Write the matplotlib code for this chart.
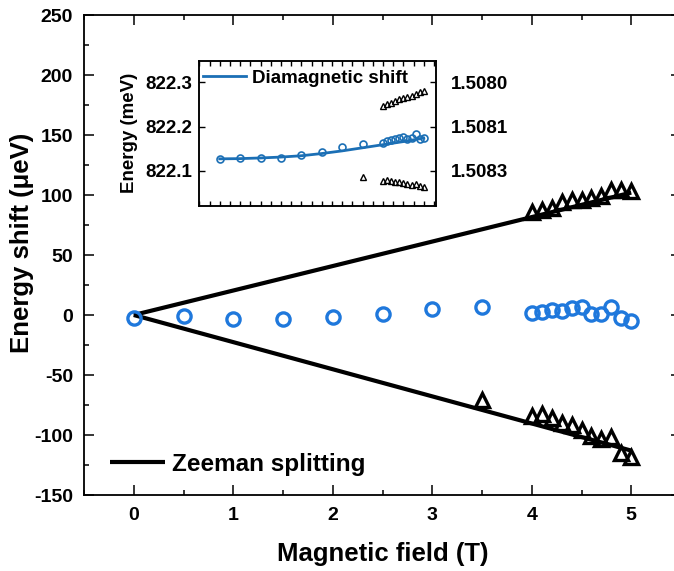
import matplotlib
matplotlib.use('Agg')
import matplotlib.pyplot as plt
from matplotlib.ticker import MultipleLocator

plt.rcParams['font.family'] = ['Liberation Sans', 'DejaVu Sans']
plt.rcParams['font.weight'] = 'bold'
plt.rcParams['axes.labelweight'] = 'bold'
plt.rcParams['axes.unicode_minus'] = False

# ---------------- data (main panel) ----------------
field_low = [0.0, 0.5, 1.0, 1.5, 2.0, 2.5, 3.0, 3.5]
field_high = [4.0, 4.1, 4.2, 4.3, 4.4, 4.5, 4.6, 4.7, 4.8, 4.9, 5.0]
center_shift = [-2.8, -0.8, -3.3, -3.3, -1.4, 0.8, 4.7, 6.9,
                1.9, 2.5, 4.2, 3.6, 5.8, 6.4, 0.5, 0.5, 6.4, -2.8, -4.7]
upper_field = field_high
upper_shift = [85.8, 87.8, 88.9, 94.0, 95.5, 95.8, 97.2, 98.9, 103.9, 103.9, 103.3]
lower_field = [3.5] + field_high
lower_shift = [-71.0, -83.8, -82.4, -85.7, -90.0, -92.0, -95.5, -101.0, -103.0,
               -102.0, -114.7, -118.7]
zeeman_field = [0.0, 5.0]
zeeman_upper = [0.0, 102.0]
zeeman_lower = [0.0, -113.0]

# ---------------- data (inset) ----------------
inset_center_E = [822.1265, 822.128, 822.128, 822.130, 822.135, 822.142, 822.153, 822.160,
                  822.163, 822.1665, 822.169, 822.171, 822.174, 822.1755, 822.173,
                  822.174, 822.183, 822.173, 822.174]
inset_upper_E = [822.2464, 822.250, 822.254, 822.258, 822.2615, 822.264, 822.266,
                 822.269, 822.273, 822.278, 822.281]
inset_lower_E = [822.085, 822.0774, 822.079, 822.077, 822.0745, 822.074, 822.0715,
                 822.069, 822.068, 822.069, 822.0647, 822.0624]
fit_B = [0.0, 0.5, 1.0, 1.5, 2.0, 2.5, 3.0, 3.5, 4.0, 4.5, 5.0]
fit_E = [822.127, 822.1275, 822.129, 822.131, 822.134, 822.139, 822.145, 822.152,
         822.159, 822.166, 822.174]
inset_left_ticks = [822.1, 822.2, 822.3]
inset_left_labels = ['822.1', '822.2', '822.3']
inset_right_labels = ['1.5083', '1.5081', '1.5080']

all_field = field_low + field_high

W, H = 674, 571
fig = plt.figure(figsize=(W / 100, H / 100), dpi=100)

# main axes: left 84px, right 681px, top 15px, bottom 495px
ax = fig.add_axes([84 / W, 1 - 495 / H, (681 - 84) / W, (495 - 15) / H])
line_main, = ax.plot(zeeman_field, zeeman_upper, color='black', lw=3.0,
                     solid_capstyle='butt', zorder=2, label='Zeeman splitting')
ax.plot(zeeman_field, zeeman_lower, color='black', lw=3.0, solid_capstyle='butt', zorder=2)
ax.plot(upper_field, upper_shift, linestyle='none', marker='^', ms=10.5,
        mfc='none', mec='black', mew=2.4, zorder=3)
ax.plot(lower_field, lower_shift, linestyle='none', marker='^', ms=10.5,
        mfc='none', mec='black', mew=2.4, zorder=3)
ax.plot(all_field, center_shift, linestyle='none', marker='o', ms=9.5,
        mfc='none', mec='#1f78dc', mew=2.4, zorder=3)

ax.set_xlim(-0.5, 5.5)
ax.set_ylim(-150, 250)
ax.xaxis.set_major_locator(MultipleLocator(1))
ax.xaxis.set_minor_locator(MultipleLocator(0.5))
ax.yaxis.set_major_locator(MultipleLocator(50))
ax.yaxis.set_minor_locator(MultipleLocator(25))
ax.tick_params(which='both', direction='in', top=True, right=True, width=1.1,
               labelsize=14)
ax.tick_params(which='major', length=7)
ax.tick_params(which='minor', length=3.6)
ax.tick_params(axis='x', which='major', pad=9)
ax.tick_params(axis='y', which='major', pad=8)
for s in ax.spines.values():
    s.set_linewidth(1.3)
for lab in ax.get_xticklabels() + ax.get_yticklabels():
    lab.set_fontweight('bold')

ax.set_xlabel('Magnetic field (T)', fontsize=18.5, fontweight='bold')
ax.set_ylabel('Energy shift (μeV)', fontsize=18.5, fontweight='bold')
ax.xaxis.set_label_coords(0.5, -(542 - 495) / 480)
ax.yaxis.set_label_coords(-(84 - 34) / 597, (495 - 243) / 480)

leg = ax.legend(handles=[line_main], loc='center left',
                bbox_to_anchor=((110 - 84) / 597, (495 - 464) / 480),
                frameon=False, fontsize=17.5, handlelength=2.25,
                handletextpad=0.3, borderpad=0, borderaxespad=0)
for t in leg.get_texts():
    t.set_fontweight('bold')

# inset axes: left 199.3, right 436, top 60.7, bottom 205.7
il, ir, it, ib = 199.3, 436.0, 60.7, 205.7
axi = fig.add_axes([il / W, 1 - ib / H, (ir - il) / W, (ib - it) / H])
fit_line, = axi.plot(fit_B, fit_E, color='#1b6fb5', lw=2.0, zorder=2,
                     label='Diamagnetic shift')
axi.plot(all_field, inset_center_E, linestyle='none', marker='o', ms=5,
         mfc='none', mec='#1b6fb5', mew=1.2, zorder=3)
axi.plot(upper_field, inset_upper_E, linestyle='none', marker='^', ms=5,
         mfc='none', mec='black', mew=1.0, zorder=3)
axi.plot(lower_field, inset_lower_E, linestyle='none', marker='^', ms=5,
         mfc='none', mec='black', mew=1.0, zorder=3)
axi.set_xlim(-0.5, 5.3)
axi.set_ylim(822.021, 822.349)
axi.xaxis.set_major_locator(MultipleLocator(0.5))
axi.xaxis.set_minor_locator(MultipleLocator(0.25))
axi.set_yticks(inset_left_ticks)
axi.set_yticklabels(inset_left_labels)
axi.tick_params(axis='x', which='both', direction='in', top=True, labelbottom=False,
                length=3.5, width=1.0)
axi.tick_params(axis='y', which='major', direction='in', length=4.5, width=1.0,
                labelsize=13.5, pad=5)
for lab in axi.get_yticklabels():
    lab.set_fontweight('bold')
for s in axi.spines.values():
    s.set_linewidth(1.1)
axi.set_ylabel('Energy (meV)', fontsize=13.5, fontweight='bold')
axi.yaxis.set_label_coords(-(il - 130) / (ir - il), 0.5)
axi.yaxis.label.set_va('center')

axr = axi.twinx()
axr.set_ylim(axi.get_ylim())
axr.set_yticks(inset_left_ticks)
axr.set_yticklabels(inset_right_labels)
axr.tick_params(axis='y', direction='in', length=4.5, width=1.0, labelsize=13.5, pad=11)
for lab in axr.get_yticklabels():
    lab.set_fontweight('bold')
for s in axr.spines.values():
    s.set_linewidth(1.1)

leg2 = axi.legend(handles=[fit_line], loc='center left',
                  bbox_to_anchor=((203 - il) / (ir - il), (ib - 78.3) / (ib - it)),
                  frameon=False, fontsize=13.5, handlelength=2.3,
                  handletextpad=0.3, borderpad=0, borderaxespad=0)
for t in leg2.get_texts():
    t.set_fontweight('bold')

fig.savefig('out.png', dpi=100)
